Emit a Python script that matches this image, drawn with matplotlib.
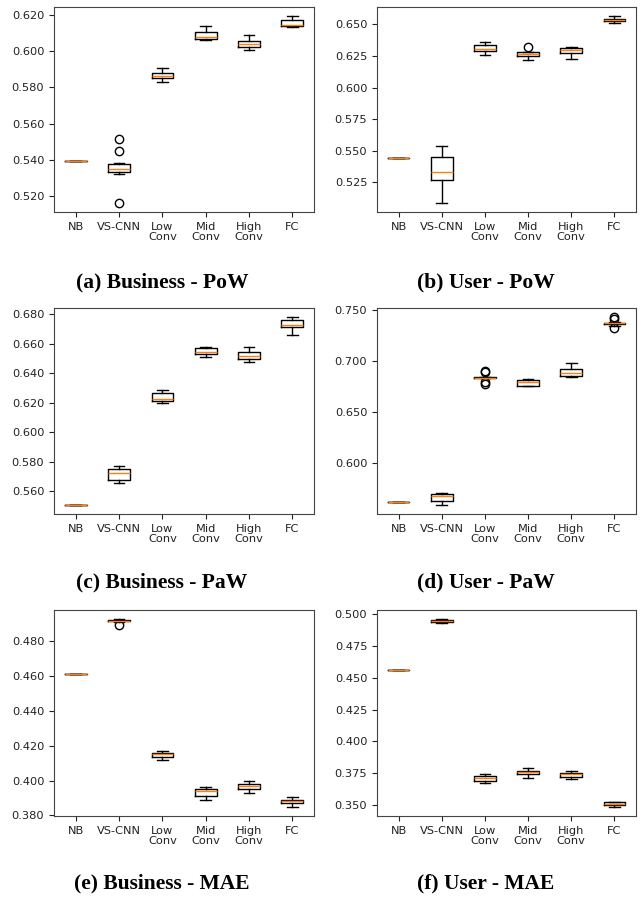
import matplotlib
matplotlib.use('Agg')
import matplotlib.pyplot as plt
from matplotlib.ticker import FormatStrFormatter, MultipleLocator

W, H = 641, 899

MODELS = ['NB', 'VS-CNN', 'Low\nConv', 'Mid\nConv', 'High\nConv', 'FC']

# (a) Business - PoW
A_MED = [0.5391, 0.5350, 0.5862, 0.6079, 0.6042, 0.6147]
A_Q1  = [0.5391, 0.5332, 0.5850, 0.6068, 0.6022, 0.6141]
A_Q3  = [0.5391, 0.5378, 0.5877, 0.6108, 0.6057, 0.6171]
A_LO  = [0.5391, 0.5321, 0.5830, 0.6061, 0.6009, 0.6134]
A_HI  = [0.5391, 0.5380, 0.5909, 0.6140, 0.6090, 0.6193]
A_FL  = [[], [0.5512, 0.5450, 0.5162], [], [], [], []]

# (b) User - PoW
B_MED = [0.5439, 0.5332, 0.6303, 0.6268, 0.6295, 0.6534]
B_Q1  = [0.5439, 0.5268, 0.6292, 0.6250, 0.6274, 0.6524]
B_Q3  = [0.5439, 0.5450, 0.6337, 0.6279, 0.6311, 0.6542]
B_LO  = [0.5439, 0.5089, 0.6261, 0.6221, 0.6229, 0.6511]
B_HI  = [0.5439, 0.5539, 0.6361, 0.6280, 0.6321, 0.6563]
B_FL  = [[], [], [], [0.6324], [], []]

# (c) Business - PaW
C_MED = [0.5510, 0.5723, 0.6227, 0.6548, 0.6521, 0.6730]
C_Q1  = [0.5510, 0.5678, 0.6211, 0.6532, 0.6499, 0.6714]
C_Q3  = [0.5510, 0.5750, 0.6266, 0.6571, 0.6544, 0.6759]
C_LO  = [0.5510, 0.5660, 0.6198, 0.6509, 0.6479, 0.6660]
C_HI  = [0.5510, 0.5771, 0.6289, 0.6580, 0.6580, 0.6780]
C_FL  = [[], [], [], [], [], []]

# (d) User - PaW
D_MED = [0.5621, 0.5683, 0.6835, 0.6789, 0.6879, 0.7367]
D_Q1  = [0.5621, 0.5627, 0.6830, 0.6757, 0.6854, 0.7357]
D_Q3  = [0.5621, 0.5702, 0.6840, 0.6815, 0.6918, 0.7374]
D_LO  = [0.5621, 0.5595, 0.6828, 0.6752, 0.6838, 0.7340]
D_HI  = [0.5621, 0.5708, 0.6842, 0.6818, 0.6981, 0.7380]
D_FL  = [[], [], [0.6905, 0.6890, 0.6790, 0.6776], [], [], [0.7425, 0.7409, 0.7319]]

# (e) Business - MAE
E_MED = [0.4613, 0.4920, 0.4151, 0.3939, 0.3970, 0.3883]
E_Q1  = [0.4613, 0.4915, 0.4138, 0.3913, 0.3954, 0.3870]
E_Q3  = [0.4613, 0.4925, 0.4160, 0.3952, 0.3983, 0.3891]
E_LO  = [0.4613, 0.4913, 0.4119, 0.3890, 0.3930, 0.3850]
E_HI  = [0.4613, 0.4927, 0.4170, 0.3962, 0.4000, 0.3903]
E_FL  = [[], [0.4897], [], [], [], []]

# (f) User - MAE
F_MED = [0.4563, 0.4945, 0.3708, 0.3755, 0.3740, 0.3508]
F_Q1  = [0.4563, 0.4937, 0.3690, 0.3740, 0.3721, 0.3497]
F_Q3  = [0.4563, 0.4953, 0.3724, 0.3768, 0.3753, 0.3518]
F_LO  = [0.4563, 0.4929, 0.3669, 0.3708, 0.3705, 0.3484]
F_HI  = [0.4563, 0.4961, 0.3742, 0.3786, 0.3768, 0.3524]
F_FL  = [[], [], [], [], [], []]

CAPTIONS = ['(a) Business - PoW', '(b) User - PoW',
            '(c) Business - PaW', '(d) User - PaW',
            '(e) Business - MAE', '(f) User - MAE']
YSTEP = [0.02, 0.025, 0.02, 0.05, 0.02, 0.025]

panels = [
    (A_MED, A_Q1, A_Q3, A_LO, A_HI, A_FL),
    (B_MED, B_Q1, B_Q3, B_LO, B_HI, B_FL),
    (C_MED, C_Q1, C_Q3, C_LO, C_HI, C_FL),
    (D_MED, D_Q1, D_Q3, D_LO, D_HI, D_FL),
    (E_MED, E_Q1, E_Q3, E_LO, E_HI, E_FL),
    (F_MED, F_Q1, F_Q3, F_LO, F_HI, F_FL),
]

# axes boxes in pixels: left, top, right, bottom
cols = [(54, 314), (377, 636)]
rows = [(7, 212), (308, 514), (610, 816)]
cap_x = [162, 486]
cap_y = [282, 582, 883]

fig = plt.figure(figsize=(W / 100, H / 100), dpi=100)

for i, (med, q1, q3, lo, hi, fl) in enumerate(panels):
    r, c = divmod(i, 2)
    l, rr = cols[c]
    t, b = rows[r]
    ax = fig.add_axes([l / W, 1 - b / H, (rr - l) / W, (b - t) / H])
    stats = [dict(med=med[k], q1=q1[k], q3=q3[k], whislo=lo[k], whishi=hi[k],
                  fliers=fl[k]) for k in range(len(MODELS))]
    ax.bxp(stats, widths=0.5, showfliers=True,
           boxprops=dict(color='black', lw=1.0),
           whiskerprops=dict(color='black', lw=1.0),
           capprops=dict(color='black', lw=1.0),
           medianprops=dict(color='#ff7f0e', lw=1.0),
           flierprops=dict(marker='o', markerfacecolor='none',
                           markeredgecolor='black', markersize=6, lw=0))
    ax.set_xticks(range(1, len(MODELS) + 1))
    ax.set_xticklabels(MODELS, fontsize=8.2, linespacing=1.0)
    ax.yaxis.set_major_locator(MultipleLocator(YSTEP[i]))
    ax.yaxis.set_major_formatter(FormatStrFormatter('%.3f'))
    ax.tick_params(labelsize=8.2, colors='#222222', width=0.8, length=3.5)
    for s in ax.spines.values():
        s.set_color('#444444'); s.set_linewidth(0.8)
    fig.text(cap_x[c] / W, 1 - cap_y[r] / H, CAPTIONS[i], ha='center', va='center',
             fontsize=15.5, fontweight='bold', family='Liberation Serif')

fig.savefig('out.png', dpi=100)
